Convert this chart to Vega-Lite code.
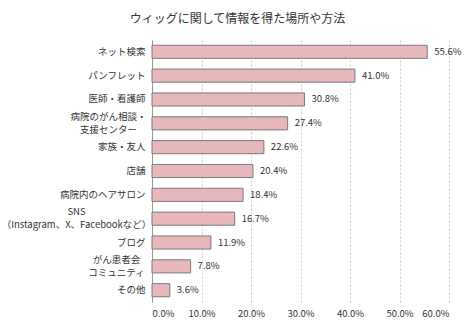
{
  "$schema": "https://vega.github.io/schema/vega-lite/v6.json",
  "autosize": "none",
  "width": 297,
  "height": 262,
  "padding": {"left": 152, "top": 40, "right": 26, "bottom": 23},
  "background": "white",
  "title": {
    "text": "ウィッグに関して情報を得た場所や方法",
    "font": "Noto Sans CJK JP",
    "fontSize": 12,
    "fontWeight": "normal",
    "color": "#333333",
    "anchor": "middle",
    "dx": -63,
    "offset": 14
  },
  "data": {
    "values": [
      {"label": "ネット検索", "value": 0.556},
      {"label": "パンフレット", "value": 0.410},
      {"label": "医師・看護師", "value": 0.308},
      {"label": "病院のがん相談・|支援センター", "value": 0.274},
      {"label": "家族・友人", "value": 0.226},
      {"label": "店舗", "value": 0.204},
      {"label": "病院内のヘアサロン", "value": 0.184},
      {"label": "SNS|（Instagram、X、Facebookなど）", "value": 0.167},
      {"label": "ブログ", "value": 0.119},
      {"label": "がん患者会|コミュニティ", "value": 0.078},
      {"label": "その他", "value": 0.036}
    ]
  },
  "encoding": {
    "y": {
      "field": "label",
      "type": "nominal",
      "sort": null,
      "scale": {"paddingInner": 0.45, "paddingOuter": 0.22},
      "axis": {
        "title": null,
        "labelExpr": "split(datum.label, '|')",
        "labelFont": "Noto Sans CJK JP",
        "labelFontSize": 9.5,
        "labelColor": "#333333",
        "labelLineHeight": 13,
        "labelAlign": {"expr": "indexof(datum.label, '|') >= 0 ? 'center' : 'right'"},
        "labelPadding": {"expr": "indexof(datum.label, 'SNS') >= 0 ? 76 : indexof(datum.label, '病院の') >= 0 ? 44 : indexof(datum.label, '患者会') >= 0 ? 36 : 7"},
        "labelOffset": {"expr": "indexof(datum.label, '|') >= 0 ? -6.5 : 0"},
        "ticks": false,
        "domainColor": "#999999",
        "grid": false
      }
    },
    "x": {
      "field": "value",
      "type": "quantitative",
      "scale": {"domain": [0, 0.6]},
      "axis": {
        "title": null,
        "format": ".1%",
        "values": [0, 0.1, 0.2, 0.3, 0.4, 0.5, 0.6],
        "labelFont": "Noto Sans CJK JP",
        "labelFontSize": 9.5,
        "labelColor": "#333333",
        "labelPadding": 6,
        "ticks": false,
        "domain": false,
        "grid": true,
        "gridColor": "#cccccc",
        "gridDash": [2, 2]
      }
    }
  },
  "layer": [
    {
      "mark": {"type": "bar", "fill": "#e8b7bb", "stroke": "#7a7a7a", "strokeWidth": 1}
    },
    {
      "mark": {"type": "text", "align": "left", "dx": 7, "font": "Noto Sans CJK JP", "fontSize": 9.5, "color": "#333333"},
      "encoding": {
        "text": {"field": "value", "type": "quantitative", "format": ".1%"}
      }
    }
  ],
  "config": {"view": {"stroke": null}}
}
